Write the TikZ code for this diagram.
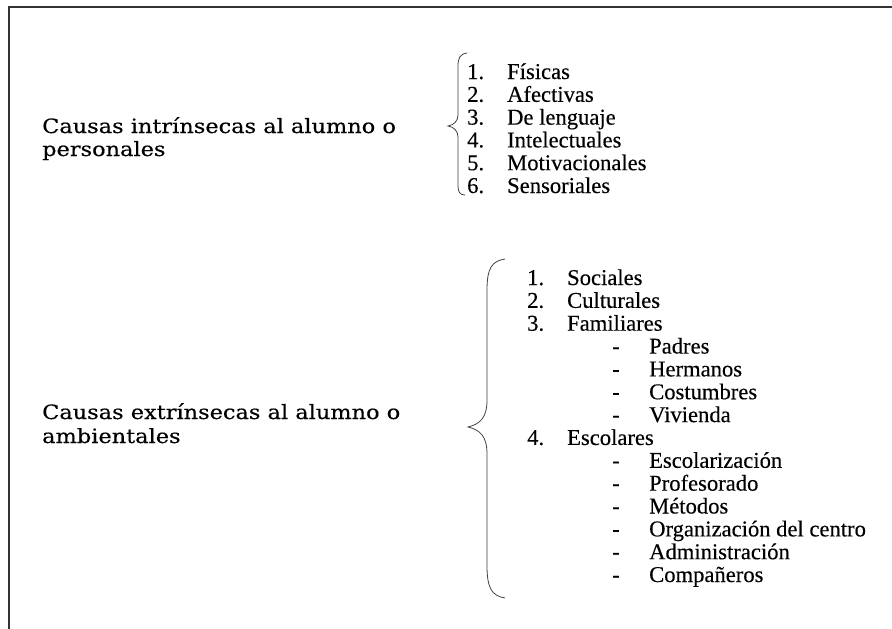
\documentclass[tikz,border=0pt]{standalone}
\usepackage{fontspec}
\setmainfont[FakeBold=0.3]{Liberation Serif}
\newfontfamily\slabfont[FakeBold=0.3]{DejaVu Serif}
\usetikzlibrary{positioning}
\tikzstyle{lab} = [anchor=base west, inner sep=0pt, font=\slabfont\fontsize{19.7}{23}\selectfont]
\tikzstyle{itm} = [anchor=base west, inner sep=0pt, font=\fontsize{22.6}{23}\selectfont]
\tikzstyle{brc} = [line width=0.8pt, black!75]
\newcommand{\num}[1]{\makebox[40pt][l]{#1}}
\newcommand{\dsh}{\makebox[37pt][l]{-}}
\newcommand{\wide}[1]{\scalebox{1.14}[1]{#1}}

\begin{document}
\begin{tikzpicture}[x=1pt, y=-1pt]
	\useasboundingbox (0,0) rectangle (892,629);
	\draw[line width=1.5pt, black!80] (892,7) -- (9,7) -- (9,629);

	% causas personales
	\node[lab](intr) at (42,133){\wide{Causas intrínsecas al alumno o}};
	\node[lab](pers) at (42,156){\wide{personales}};

	\draw[brc] (467,53) .. controls (460,54) and (458,58) .. (458,66) -- (458,115)
		.. controls (458,121) and (454,125) .. (448,126)
		.. controls (454,127) and (458,131) .. (458,137) -- (458,186)
		.. controls (458,192) and (460,195) .. (465,195);

	\node[itm](fis) at (467,79){\num{1.}Físicas};
	\node[itm](afe) at (467,101.8){\num{2.}Afectivas};
	\node[itm](len) at (467,124.6){\num{3.}De lenguaje};
	\node[itm](int) at (467,147.4){\num{4.}Intelectuales};
	\node[itm](mot) at (467,170.2){\num{5.}Motivacionales};
	\node[itm](sen) at (467,193){\num{6.}Sensoriales};

	% causas ambientales
	\node[lab](extr) at (42,419){\wide{Causas extrínsecas al alumno o}};
	\node[lab](amb) at (42,443){\wide{ambientales}};

	\draw[brc] (505,259) .. controls (492,261) and (487,268) .. (487,290) -- (487,400)
		.. controls (487,418) and (480,424) .. (468,427)
		.. controls (480,430) and (487,436) .. (487,454) -- (487,566)
		.. controls (487,588) and (492,596) .. (505,598);

	\node[itm](soc) at (527,285){\num{1.}Sociales};
	\node[itm](cul) at (527,307.85){\num{2.}Culturales};
	\node[itm](fam) at (527,330.7){\num{3.}Familiares};
	\node[itm](pad) at (612,353.55){\dsh Padres};
	\node[itm](her) at (612,376.4){\dsh Hermanos};
	\node[itm](cos) at (612,399.25){\dsh Costumbres};
	\node[itm](viv) at (612,422.1){\dsh Vivienda};
	\node[itm](esc) at (527,444.95){\num{4.}Escolares};
	\node[itm](eza) at (612,467.8){\dsh Escolarización};
	\node[itm](pro) at (612,490.65){\dsh Profesorado};
	\node[itm](met) at (612,513.5){\dsh Métodos};
	\node[itm](org) at (612,536.35){\dsh Organización del centro};
	\node[itm](adm) at (612,559.2){\dsh Administración};
	\node[itm](com) at (612,582){\dsh Compañeros};
\end{tikzpicture}
\end{document}
